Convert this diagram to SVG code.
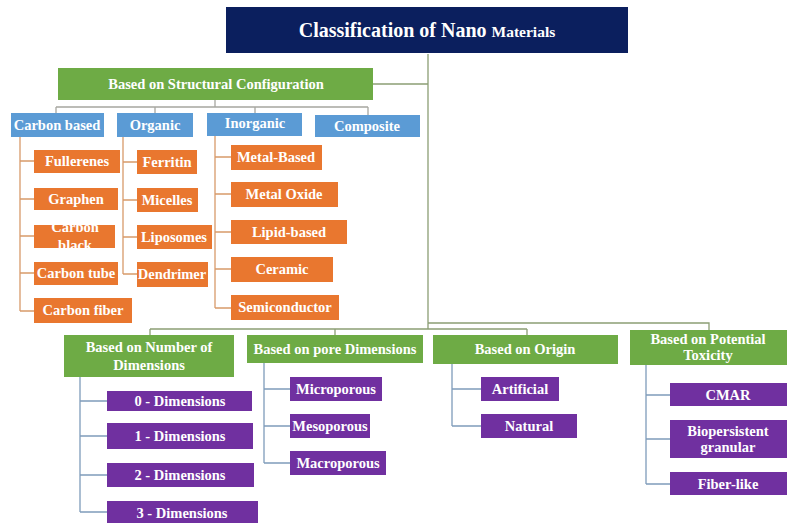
<svg xmlns="http://www.w3.org/2000/svg" width="787" height="523" viewBox="0 0 787 523">
<style>
.t{font-family:'Liberation Serif',serif;font-weight:bold;fill:#fff;text-anchor:middle;font-size:14.5px}
.navy{fill:#0B1F5E}
.green{fill:#6EAB45}
.blue{fill:#5B9BD5}
.orange{fill:#E9772F}
.purple{fill:#7030A0}
.c{fill:none;stroke-width:1.3}
.cg{stroke:#8C9E74}
.cs{stroke:#A7A7A0}
.co{stroke:#D89A6A}
.cp{stroke:#7F9CBA}
</style>
<rect width="787" height="523" fill="#fff"/>
<g id="connectors">
<path class="c cg" d="M428,54V329M373,84H428M428,323H709V330M150,329H527M150,329V335M335,329V335M527,329V335"/>
<path class="c cs" d="M215,100V107M56,107H368M56,107V113M155,107V113M255,107V113M368,107V115"/>
<path class="c co" d="M20,137V311M20,161H34M20,199H34M20,236H34M20,273H34M20,311H34"/>
<path class="c co" d="M123,137V274M123,162H137M123,200H137M123,237H137M123,274H137"/>
<path class="c co" d="M215,136V308M215,157H231M215,194H231M215,232H231M215,269H231M215,308H231"/>
<path class="c cp" d="M80,377V512M80,401H107M80,436H107M80,475H107M80,512H107"/>
<path class="c cp" d="M264,363V463M264,389H290M264,426H290M264,463H290"/>
<path class="c cp" d="M452,364V426M452,389H481M452,426H481"/>
<path class="c cp" d="M646,365V484M646,395H670M646,439H670M646,484H670"/>
</g>
<g id="title"><rect class="navy" x="226" y="7" width="402" height="46"/><text class="t" x="427" y="37" style="font-size:20px">Classification of Nano <tspan style="font-size:15.5px">Materials</tspan></text></g>
<g id="structural"><rect class="green" x="58" y="68" width="315" height="32"/><text class="t" x="216" y="89">Based on Structural  Configuration</text></g>
<g id="carbon-based"><rect class="blue" x="11" y="113" width="93" height="24"/><text class="t" x="57" y="130">Carbon based</text></g>
<g id="organic"><rect class="blue" x="117" y="113" width="76" height="24"/><text class="t" x="155" y="130">Organic</text></g>
<g id="inorganic"><rect class="blue" x="207" y="113" width="95" height="23"/><text class="t" x="255" y="128">Inorganic</text></g>
<g id="composite"><rect class="blue" x="315" y="115" width="105" height="22"/><text class="t" x="367" y="131">Composite</text></g>
<g id="fullerenes"><rect class="orange" x="34" y="150" width="86" height="23"/><text class="t" x="77" y="166">Fullerenes</text></g>
<g id="graphen"><rect class="orange" x="34" y="188" width="84" height="22"/><text class="t" x="76" y="204">Graphen</text></g>
<g id="carbon-black"><rect class="orange" x="34" y="225" width="81" height="23"/><text class="t" x="75" y="232">Carbon</text><text class="t" x="75" y="250">black</text></g>
<g id="carbon-tube"><rect class="orange" x="34" y="262" width="84" height="23"/><text class="t" x="76" y="278">Carbon  tube</text></g>
<g id="carbon-fiber"><rect class="orange" x="34" y="298" width="98" height="25"/><text class="t" x="83" y="315">Carbon  fiber</text></g>
<g id="ferritin"><rect class="orange" x="137" y="150" width="60" height="24"/><text class="t" x="167" y="167">Ferritin</text></g>
<g id="micelles"><rect class="orange" x="137" y="188" width="61" height="24"/><text class="t" x="167" y="205">Micelles</text></g>
<g id="liposomes"><rect class="orange" x="137" y="225" width="75" height="24"/><text class="t" x="174" y="242">Liposomes</text></g>
<g id="dendrimer"><rect class="orange" x="137" y="262" width="71" height="25"/><text class="t" x="172" y="279">Dendrimer</text></g>
<g id="metal-based"><rect class="orange" x="231" y="145" width="91" height="25"/><text class="t" x="276" y="162">Metal-Based</text></g>
<g id="metal-oxide"><rect class="orange" x="231" y="182" width="107" height="25"/><text class="t" x="284" y="199">Metal Oxide</text></g>
<g id="lipid-based"><rect class="orange" x="231" y="220" width="116" height="24"/><text class="t" x="289" y="237">Lipid-based</text></g>
<g id="ceramic"><rect class="orange" x="231" y="257" width="102" height="25"/><text class="t" x="282" y="274">Ceramic</text></g>
<g id="semiconductor"><rect class="orange" x="231" y="295" width="108" height="25"/><text class="t" x="285" y="312">Semiconductor</text></g>
<g id="number-dimensions"><rect class="green" x="64" y="335" width="170" height="42"/><text class="t" x="149" y="352">Based on Number  of</text><text class="t" x="149" y="370">Dimensions</text></g>
<g id="pore-dimensions"><rect class="green" x="247" y="335" width="176" height="28"/><text class="t" x="335" y="354">Based on pore Dimensions</text></g>
<g id="origin"><rect class="green" x="433" y="335" width="185" height="29"/><text class="t" x="525" y="354">Based on Origin</text></g>
<g id="toxicity"><rect class="green" x="630" y="330" width="157" height="35"/><text class="t" x="708" y="344">Based on  Potential</text><text class="t" x="708" y="360">Toxicity</text></g>
<g id="dim0"><rect class="purple" x="107" y="391" width="145" height="20"/><text class="t" x="180" y="406">0 - Dimensions</text></g>
<g id="dim1"><rect class="purple" x="107" y="423" width="146" height="26"/><text class="t" x="180" y="441">1 - Dimensions</text></g>
<g id="dim2"><rect class="purple" x="107" y="463" width="147" height="24"/><text class="t" x="180" y="480">2 - Dimensions</text></g>
<g id="dim3"><rect class="purple" x="107" y="501" width="151" height="22"/><text class="t" x="182" y="518">3 - Dimensions</text></g>
<g id="microporous"><rect class="purple" x="290" y="377" width="92" height="24"/><text class="t" x="336" y="394">Microporous</text></g>
<g id="mesoporous"><rect class="purple" x="290" y="414" width="80" height="24"/><text class="t" x="330" y="431">Mesoporous</text></g>
<g id="macroporous"><rect class="purple" x="290" y="451" width="96" height="24"/><text class="t" x="338" y="468">Macroporous</text></g>
<g id="artificial"><rect class="purple" x="481" y="377" width="78" height="24"/><text class="t" x="520" y="394">Artificial</text></g>
<g id="natural"><rect class="purple" x="481" y="414" width="96" height="24"/><text class="t" x="529" y="431">Natural</text></g>
<g id="cmar"><rect class="purple" x="670" y="383" width="117" height="23"/><text class="t" x="728" y="400">CMAR</text></g>
<g id="biopersistent"><rect class="purple" x="670" y="420" width="117" height="38"/><text class="t" x="728" y="436">Biopersistent</text><text class="t" x="728" y="452">granular</text></g>
<g id="fiber-like"><rect class="purple" x="670" y="472" width="117" height="23"/><text class="t" x="728" y="489">Fiber-like</text></g>
</svg>
